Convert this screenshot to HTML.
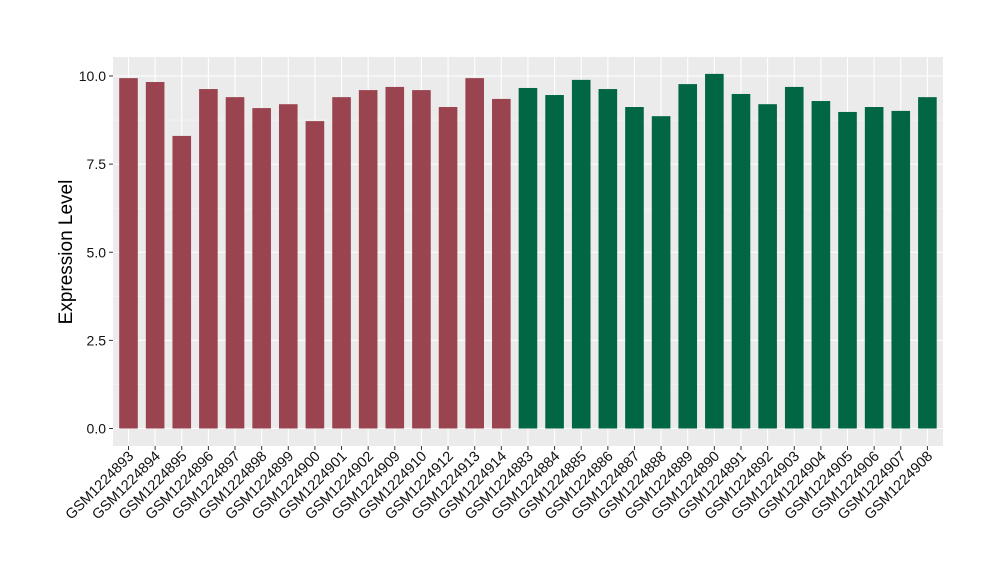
<!DOCTYPE html>
<html><head><meta charset="utf-8"><style>
body{margin:0;background:#fff;font-family:"Liberation Sans",sans-serif;}
</style></head><body>
<svg id="chart" width="1000" height="580" xmlns="http://www.w3.org/2000/svg">
<rect x="113" y="57" width="830" height="389" fill="#ebebeb"/>
<g id="grid"></g><g id="bars"></g><g id="axes"></g>
<text x="72" y="252" transform="rotate(-90 72 252)" text-anchor="middle" font-size="19" fill="#000">Expression Level</text>
</svg>
<script>
const categories=["GSM1224893","GSM1224894","GSM1224895","GSM1224896","GSM1224897","GSM1224898","GSM1224899","GSM1224900","GSM1224901","GSM1224902","GSM1224909","GSM1224910","GSM1224912","GSM1224913","GSM1224914","GSM1224883","GSM1224884","GSM1224885","GSM1224886","GSM1224887","GSM1224888","GSM1224889","GSM1224890","GSM1224891","GSM1224892","GSM1224903","GSM1224904","GSM1224905","GSM1224906","GSM1224907","GSM1224908"];
const values=[9.94,9.83,8.30,9.63,9.40,9.09,9.20,8.72,9.40,9.60,9.69,9.60,9.12,9.94,9.35,9.66,9.46,9.89,9.63,9.12,8.86,9.77,10.06,9.49,9.20,9.69,9.29,8.98,9.12,9.01,9.40];
const groups=["a","a","a","a","a","a","a","a","a","a","a","a","a","a","a","b","b","b","b","b","b","b","b","b","b","b","b","b","b","b","b"];
const yTicks=[0,2.5,5,7.5,10];
const yTickLabels=["0.0","2.5","5.0","7.5","10.0"];
const colors={a:"#9a4450",b:"#006644"};
const NS="http://www.w3.org/2000/svg";
const y=v=>428.5-v*35.25;
const x=i=>128.5+i*26.63;
function mk(tag,attrs,parent){const e=document.createElementNS(NS,tag);for(const k in attrs)e.setAttribute(k,attrs[k]);parent.appendChild(e);return e;}
const grid=document.getElementById('grid'),bars=document.getElementById('bars'),axes=document.getElementById('axes');
for(let i=0;i<yTicks.length-1;i++){const m=(yTicks[i]+yTicks[i+1])/2;
 const l=mk('line',{x1:113,x2:943,y1:y(m),y2:y(m),stroke:'#f6f6f6','stroke-width':0.6},grid);
 
 }
yTicks.forEach((t,i)=>{
 const l=mk('line',{x1:113,x2:943,y1:y(t),y2:y(t),stroke:'#fff','stroke-width':1.1},grid);
 
 
 mk('line',{x1:109,x2:113,y1:y(t),y2:y(t),stroke:'#333'},axes);
 const tx=mk('text',{x:106,y:y(t)+5,'text-anchor':'end','font-size':14,fill:'#111'},axes);
 tx.textContent=yTickLabels[i];
 
 
});
categories.forEach((c,i)=>{
 const g=mk('line',{x1:x(i),x2:x(i),y1:57,y2:446,stroke:'#fff','stroke-width':1.1},grid);
 
 
 const b=mk('rect',{x:x(i)-9.3,width:18.6,y:y(values[i]),height:y(0)-y(values[i]),fill:colors[groups[i]]},bars);
 
 
 mk('line',{x1:x(i),x2:x(i),y1:446,y2:450,stroke:'#333'},axes);
 const tx=mk('text',{x:x(i)+6,y:457,'text-anchor':'end','font-size':14.5,fill:'#111',transform:`rotate(-45 ${x(i)+6} 457)`},axes);
 tx.textContent=c;
 
 
});
</script>
</body></html>
